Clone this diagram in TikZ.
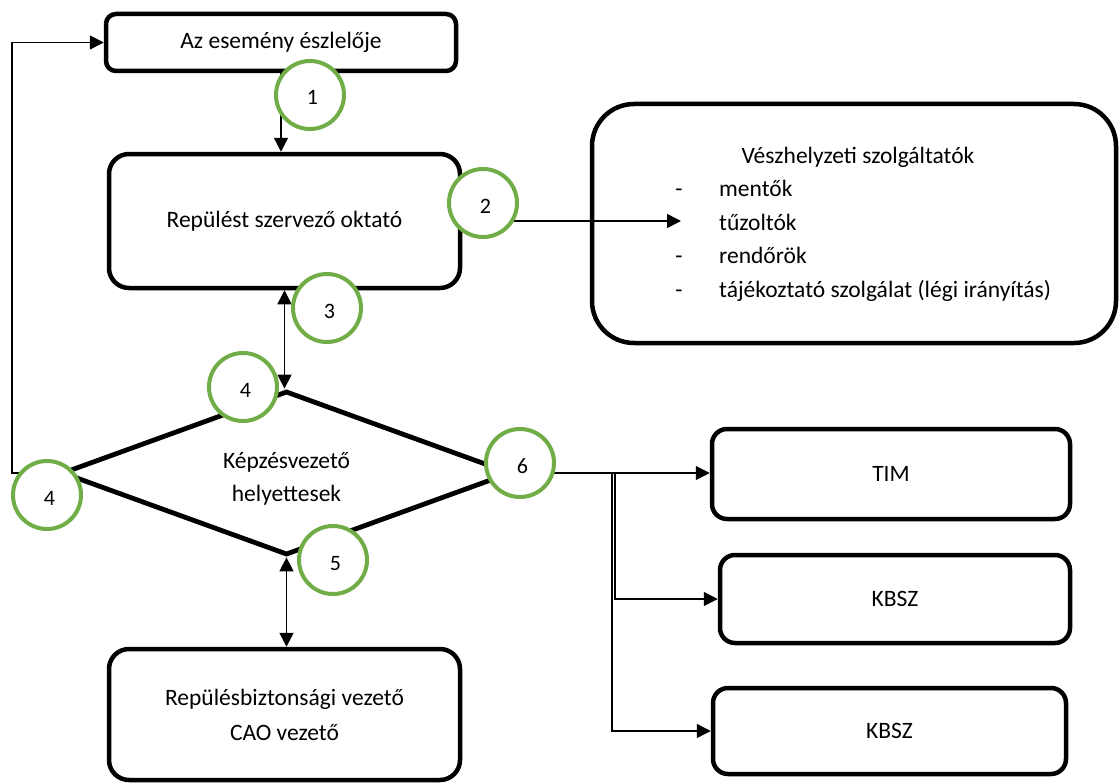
\documentclass[tikz,border=0pt]{standalone}
\usepackage{fontspec}
\setmainfont{Carlito}
\usetikzlibrary{shapes.geometric,arrows.meta}
\definecolor{numgreen}{HTML}{70AD47}
\newcommand\dg[1]{\raisebox{-10pt}[0pt][0pt]{\hspace*{5pt}#1}}
\begin{document}
\begin{tikzpicture}[x=1pt,y=-1pt,
  box/.style={draw, line width=4.5pt, rounded corners=#1, inner sep=0pt, align=center,
    font=\fontsize{23.5}{35}\selectfont},
  box/.default=12pt,
  num/.style={circle, draw=numgreen, line width=4pt, fill=white, minimum size=68pt,
    inner sep=0pt, font=\fontsize{22}{26}\selectfont},
  conn/.style={line width=1.5pt, -{Triangle[length=14pt,width=14pt]}},
  conn2/.style={line width=1.5pt, {Triangle[length=14pt,width=14pt]}-{Triangle[length=14pt,width=14pt]}},
  txt/.style={font=\fontsize{23.5}{33}\selectfont, inner sep=0pt}
]
\useasboundingbox (0,0) rectangle (1120,784);

% boxes
\node[box=10pt, minimum width=350pt, minimum height=57pt] (A) at (281,42.5) {Az esemény észlelője};
\node[box=20pt, minimum width=351pt, minimum height=134pt] (B) at (284.5,221) {Repülést szervező oktató};
\node[box=20pt, minimum width=351pt, minimum height=131pt] (D) at (284.5,714.5) {Repülésbiztonsági vezető\\CAO vezető};
\node[box=42pt, minimum width=524pt, minimum height=239pt] (E) at (854,223.5) {};
\node[box=15pt, minimum width=358pt, minimum height=90pt] (T) at (891,474) {TIM};
\node[box=15pt, minimum width=350pt, minimum height=88pt] (K1) at (895,599) {KBSZ};
\node[box=15pt, minimum width=353pt, minimum height=86pt] (K2) at (889.5,731) {KBSZ};
\node[draw, diamond, line width=4.8pt, minimum width=449pt, minimum height=164pt, aspect=2.74,
  inner sep=0pt,
  label={[txt, align=center, yshift=-6pt]center:Képzésvezető\\helyettesek}] (H) at (286.5,473) {};

% texts of the emergency box
\node[txt, anchor=base] (Et) at (858,163) {Vészhelyzeti szolgáltatók};
\node[txt, anchor=base] (d1) at (679,196.5) {-};
\node[txt, anchor=base west] (e1) at (719,196.5) {mentők};
\node[txt, anchor=base west] (e2) at (719,230) {tűzoltók};
\node[txt, anchor=base] (d3) at (679,263.5) {-};
\node[txt, anchor=base west] (e3) at (719,263.5) {rendőrök};
\node[txt, anchor=base] (d4) at (679,297) {-};
\node[txt, anchor=base west] (e4) at (719,297) {tájékoztató szolgálat (légi irányítás)};

% connectors
\coordinate (Earrow) at (681,221);
\coordinate (fb) at (12,473);
\coordinate (s1) at (615,473);
\coordinate (s2) at (612,473);
\draw[conn] (A.south) -- (A.south |- B.north);
\draw[conn] (B.east) -- (Earrow);
\draw[conn2] (B.south) -- (B.south |- H.north);
\draw[conn2] (H.south) -- (H.south |- D.north);
\draw[conn] (H.west) -- (fb) |- (A.west);
\draw[conn] (H.east) -- (T.west |- H.east);
\draw[conn] (H.east) -- (s1) |- (K1.west);
\draw[conn] (H.east) -- (s2) |- (K2.west);

% numbered circles
\node[num] (c1) at (310,95) {\dg{1}};
\node[num] (c2) at (483,203) {\dg{2}};
\node[num] (c3) at (327,308) {\dg{3}};
\node[num] (c4a) at (243,387) {\dg{4}};
\node[num] (c4b) at (47,495) {\dg{4}};
\node[num] (c5) at (333,560) {\dg{5}};
\node[num] (c6) at (520,463) {\dg{6}};
\end{tikzpicture}
\end{document}
